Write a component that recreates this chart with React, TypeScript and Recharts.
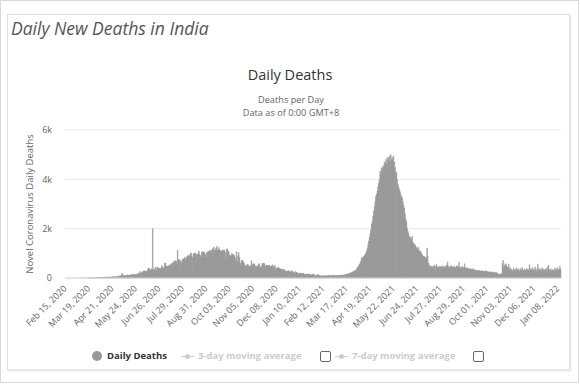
import React from "react";
import { BarChart, Bar, XAxis, YAxis, CartesianGrid } from "recharts";

const MONTHS = ["Jan", "Feb", "Mar", "Apr", "May", "Jun", "Jul", "Aug", "Sep", "Oct", "Nov", "Dec"];
const FIRST_DAY = Date.UTC(2020, 1, 15);
const FONT = "'Open Sans', 'DejaVu Sans', sans-serif";

// daily deaths, one array per month
const feb20 = [0, 0, 0, 0, 0, 0, 0, 0, 0, 0, 0, 0, 0, 0, 0];
const mar20 = [0, 0, 0, 0, 0, 0, 0, 0, 0, 0, 0, 1, 0, 0, 0, 1, 0, 1, 1, 1, 1, 3, 2, 1, 4, 4, 6, 3, 5, 4, 10];
const apr20 = [20, 13, 12, 24, 16, 32, 20, 17, 33, 38, 27, 37, 29, 36, 44, 30, 37, 31, 47, 36, 53, 45, 58, 39, 50, 43, 52, 60, 75, 77];
const may20 = [70, 93, 83, 128, 195, 126, 89, 103, 97, 111, 87, 121, 134, 100, 100, 122, 120, 157, 134, 140, 132, 148, 137, 142, 146, 154, 170, 194, 175, 265, 193];
const jun20 = [230, 204, 260, 273, 294, 287, 261, 266, 279, 357, 396, 386, 311, 325, 380, 343, 2003, 334, 375, 306, 445, 312, 440, 418, 410, 384, 404, 380, 417, 506];
const jul20 = [434, 379, 444, 610, 613, 465, 482, 488, 497, 475, 551, 500, 553, 606, 587, 671, 543, 681, 706, 680, 585, 1120, 740, 757, 706, 705, 636, 654, 775, 764, 779];
const aug20 = [853, 771, 803, 857, 904, 886, 933, 871, 1007, 1007, 868, 834, 950, 1007, 996, 1013, 941, 876, 977, 983, 1092, 945, 912, 848, 1057, 1063, 1022, 1068, 1021, 948, 819];
const sep20 = [1043, 1026, 1092, 1069, 1089, 1133, 1016, 1115, 1172, 1201, 1251, 1133, 1130, 1209, 1290, 1132, 1174, 1247, 1130, 1135, 1053, 1085, 1129, 1089, 1141, 1124, 1039, 776, 1179, 1181];
const oct20 = [1095, 1069, 940, 903, 884, 986, 971, 964, 926, 918, 816, 717, 1069, 680, 895, 1033, 837, 579, 587, 717, 706, 680, 650, 578, 480, 488, 517, 550, 551, 470, 490];
const nov20 = [470, 496, 704, 490, 577, 559, 576, 511, 447, 480, 448, 512, 547, 585, 435, 449, 474, 584, 584, 590, 587, 511, 447, 524, 501, 518, 496, 524, 443, 482];
const dec20 = [488, 482, 540, 411, 482, 512, 354, 402, 410, 391, 442, 387, 391, 354, 355, 342, 345, 347, 342, 299, 264, 271, 289, 252, 301, 251, 279, 239, 251, 299, 264];
const jan21 = [217, 224, 201, 264, 234, 222, 187, 180, 201, 186, 202, 175, 191, 181, 198, 161, 151, 137, 163, 151, 162, 169, 145, 157, 127, 136, 123, 160, 150, 126, 127];
const feb21 = [94, 107, 108, 138, 125, 103, 99, 85, 93, 96, 81, 84, 97, 83, 95, 88, 94, 96, 100, 101, 97, 92, 96, 90, 108, 110, 113, 103];
const mar21 = [90, 105, 100, 95, 110, 112, 100, 110, 105, 125, 120, 115, 120, 130, 135, 150, 160, 155, 170, 180, 200, 190, 210, 230, 250, 240, 270, 300, 280, 320, 380];
const apr21 = [450, 420, 500, 560, 620, 700, 820, 780, 850, 880, 920, 970, 1000, 1100, 1200, 1350, 1500, 1650, 1800, 1950, 2190, 2300, 2500, 2720, 2900, 3100, 3300, 3400, 3530, 3700];
const may21 = [3850, 4000, 4340, 4200, 4450, 4500, 4400, 4550, 4700, 4600, 4800, 4650, 4900, 4750, 4850, 4950, 4700, 5000, 4800, 4900, 4750, 4950, 4700, 4500, 4220, 4300, 4000, 3800, 3700, 3610, 3500];
const jun21 = [3400, 3300, 3250, 3100, 2950, 2840, 2600, 2400, 2300, 2030, 1900, 1800, 1700, 1650, 1620, 1550, 1700, 1450, 1400, 1380, 1350, 1300, 1250, 1200, 1150, 1250, 1100, 1080, 1095, 1000];
const jul21 = [950, 900, 880, 870, 850, 820, 800, 1220, 880, 600, 520, 490, 480, 470, 460, 450, 480, 520, 470, 430, 560, 470, 440, 450, 420, 480, 460, 430, 500, 460, 440];
const aug21 = [450, 480, 430, 520, 500, 650, 470, 450, 420, 480, 500, 440, 460, 430, 470, 440, 420, 460, 500, 480, 450, 640, 430, 410, 450, 470, 420, 440, 400, 580, 420];
const sep21 = [400, 380, 420, 360, 350, 390, 370, 360, 340, 380, 330, 320, 350, 310, 300, 320, 290, 310, 280, 300, 270, 290, 300, 260, 280, 270, 250, 290, 260, 280];
const oct21 = [260, 240, 250, 230, 220, 260, 240, 230, 210, 240, 200, 220, 230, 210, 180, 160, 150, 140, 170, 150, 160, 600, 720, 450, 500, 560, 580, 480, 450, 400, 560];
const nov21 = [380, 420, 300, 350, 290, 330, 400, 310, 360, 280, 420, 330, 300, 380, 260, 340, 390, 300, 420, 280, 310, 360, 280, 330, 400, 300, 350, 310, 540, 300];
const dec21 = [380, 320, 420, 290, 360, 300, 450, 320, 280, 400, 560, 300, 350, 380, 290, 330, 420, 270, 360, 300, 350, 310, 400, 280, 450, 520, 330, 300, 380, 290, 340];
const jan22 = [320, 290, 350, 400, 330, 300, 420, 380, 310, 360, 480, 350];

const dailyDeaths = [
  ...feb20, ...mar20, ...apr20, ...may20, ...jun20, ...jul20, ...aug20, ...sep20, ...oct20, ...nov20, ...dec20,
  ...jan21, ...feb21, ...mar21, ...apr21, ...may21, ...jun21, ...jul21, ...aug21, ...sep21, ...oct21, ...nov21, ...dec21,
  ...jan22,
];

const yTicks = [0, 2000, 4000, 6000];

const fmtDate = (i: number) => {
  const d = new Date(FIRST_DAY + i * 86400000);
  const day = String(d.getUTCDate()).padStart(2, "0");
  return `${MONTHS[d.getUTCMonth()]} ${day}, ${d.getUTCFullYear()}`;
};

const data = dailyDeaths.map((v, i) => ({ date: fmtDate(i), deaths: v }));

const DateTick = (props: any) => {
  const { x, y, payload } = props;
  const tx = x + 2;
  const ty = y + 3;
  return (
    <text
      x={tx}
      y={ty}
      textAnchor="end"
      transform={`rotate(-45 ${tx} ${ty})`}
      fontSize={9}
      fill="#666666"
      fontFamily={FONT}
    >
      {payload.value}
    </text>
  );
};

const Checkbox = ({ left }: { left: number }) => (
  <div
    style={{
      position: "absolute",
      left,
      top: 351,
      width: 9,
      height: 9,
      border: "1px solid #666",
      borderRadius: 2,
      background: "#fff",
    }}
  />
);

const LineSymbol = ({ left }: { left: number }) => (
  <div style={{ position: "absolute", left, top: 351, width: 13, height: 10 }}>
    <div style={{ position: "absolute", left: 0, top: 4.5, width: 13, height: 1, background: "#ccc" }} />
    <div style={{ position: "absolute", left: 4, top: 2.5, width: 5, height: 5, borderRadius: "50%", background: "#ccc" }} />
  </div>
);

const legendText: React.CSSProperties = {
  position: "absolute",
  top: 349,
  fontSize: 9.5,
  lineHeight: "13px",
  fontWeight: 700,
  fontFamily: FONT,
  whiteSpace: "nowrap",
};

const subtitle: React.CSSProperties = {
  position: "absolute",
  left: 0,
  width: 582,
  textAlign: "center",
  fontSize: 9.2,
  lineHeight: "12px",
  color: "#666",
};

export default function App() {
  return (
    <div style={{ position: "absolute", left: 0, top: 0, width: 580, height: 384, background: "#fff", fontFamily: FONT }}>
      <div style={{ position: "absolute", left: 0, top: 0, width: 579, height: 383, boxSizing: "border-box", border: "1px solid #d9d9d9" }} />
      <div
        style={{
          position: "absolute",
          left: 7,
          top: 14,
          width: 563,
          height: 356,
          boxSizing: "border-box",
          border: "1px solid #e2e2e2",
          boxShadow: "1px 1px 2px rgba(0,0,0,0.12)",
        }}
      />
      <div style={{ position: "absolute", left: 11, top: 18, fontSize: 17.5, lineHeight: "20px", fontStyle: "italic", color: "#555" }}>
        Daily New Deaths in India
      </div>
      <div style={{ position: "absolute", left: 0, top: 67, width: 580, textAlign: "center", fontSize: 14.5, lineHeight: "16px", color: "#333" }}>
        Daily Deaths
      </div>
      <div style={{ ...subtitle, top: 93.5 }}>Deaths per Day</div>
      <div style={{ ...subtitle, top: 106.5 }}>Data as of 0:00 GMT+8</div>

      <div style={{ position: "absolute", left: 0, top: 0 }}>
        <BarChart
          width={580}
          height={384}
          data={data}
          margin={{ top: 130, right: 19, bottom: 40, left: 15 }}
          barCategoryGap={0}
          barGap={0}
        >
          <CartesianGrid vertical={false} stroke="#e6e6e6" />
          <XAxis
            dataKey="date"
            interval={32}
            height={66}
            tick={<DateTick />}
            tickLine={false}
            axisLine={{ stroke: "#ccd6eb" }}
          />
          <YAxis
            width={50}
            domain={[0, 6000]}
            ticks={yTicks}
            tickFormatter={(v: number) => (v === 0 ? "0" : `${v / 1000}k`)}
            axisLine={false}
            tickLine={false}
            tickSize={0}
            tickMargin={13}
            tick={{ fontSize: 9, fill: "#666666", fontFamily: FONT }}
            label={{
              value: "Novel Coronavirus Daily Deaths",
              angle: -90,
              position: "insideLeft",
              offset: 15,
              style: { textAnchor: "middle", fontSize: 9.5, fill: "#666666", fontFamily: FONT },
            }}
          />
          <Bar dataKey="deaths" fill="#969696" stroke="#969696" strokeWidth={0.4} isAnimationActive={false} />
        </BarChart>
      </div>

      <div style={{ position: "absolute", left: 92, top: 351, width: 10, height: 10, borderRadius: "50%", background: "#999" }} />
      <div style={{ ...legendText, left: 107, color: "#333" }}>Daily Deaths</div>
      <LineSymbol left={181} />
      <div style={{ ...legendText, left: 198, color: "#ccc" }}>3-day moving average</div>
      <Checkbox left={320} />
      <LineSymbol left={335} />
      <div style={{ ...legendText, left: 352, color: "#ccc" }}>7-day moving average</div>
      <Checkbox left={473} />
    </div>
  );
}
